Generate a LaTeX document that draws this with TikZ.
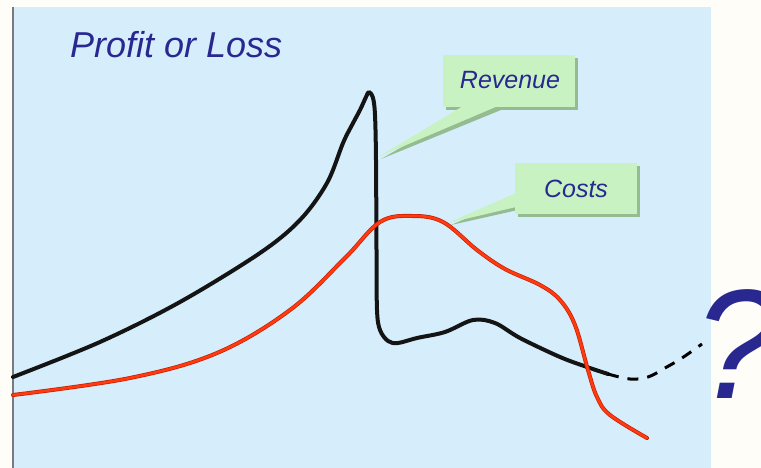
\documentclass[tikz,border=0pt]{standalone}
\usepackage{fontspec}
\setmainfont{Liberation Sans}
\definecolor{pagebg}{HTML}{FEFDF8}
\definecolor{panel}{HTML}{D6EEFC}
\definecolor{axisgray}{HTML}{7A7A7A}
\definecolor{txtblue}{HTML}{282890}
\definecolor{calloutgreen}{HTML}{C8F2C2}
\definecolor{calloutshadow}{HTML}{94BC90}
\definecolor{redcurve}{HTML}{FF3A10}
\definecolor{rededge}{HTML}{C42000}
\tikzset{
  x=1pt, y=-1pt,
  callout/.style={fill=calloutgreen, draw=none},
  shadowfill/.style={fill=calloutshadow, draw=none},
  labeltext/.style={font=\fontsize{25}{30}\selectfont\itshape, text=txtblue, inner sep=0pt},
  revline/.style={line width=4pt, draw=black!92, line cap=round, line join=round},
  costedge/.style={line width=4pt, draw=rededge, line cap=round, line join=round},
  costline/.style={line width=2.6pt, draw=redcurve, line cap=round, line join=round},
  futureline/.style={line width=3pt, draw=black, dash pattern=on 11pt off 9pt},
}
\begin{document}
\begin{tikzpicture}
\clip (0,0) rectangle (761,468);
\fill[pagebg] (0,0) rectangle (761,468);
\fill[panel] (13,7) rectangle (711,468);
\draw[axisgray, line width=2pt] (13,7) -- (13,468);

% Title
\node[anchor=base west, font=\fontsize{36}{42}\selectfont\itshape, text=txtblue, inner sep=0pt] (title) at (70,58) {Profit or Loss};

% Revenue curve
\draw[revline] plot[smooth, tension=0.55] coordinates {
  (13,377) (100,342) (180,302) (260,253) (300,220) (327,183) (343,143)
  (352,125) (360,110) (366,97) (369,92) (373,98) (375,115) (376,160)
  (376.5,250) (377,310) (380,330) (388,341) (398,343) (417,338)
  (445,332) (473,320) (495,323) (520,338) (560,357) (587,367) (608,374)};
\draw[futureline] plot[smooth, tension=0.6] coordinates {
  (608,374) (630,379) (648,377) (665,368) (682,358) (702,344)};

% Costs curve
\def\costpath{plot[smooth, tension=0.6] coordinates {
  (13,395) (130,378) (217,353) (290,310) (345,258) (380,222) (412,216)
  (443,222) (477,250) (505,269) (540,285) (560,300) (575,325) (588,370)
  (597,397) (610,415) (647,438)}}
\draw[costedge] \costpath;
\draw[costline] \costpath;

% Revenue callout
\coordinate (revtip) at (378,157);
\fill[shadowfill] (446,58) rectangle (578,110);
\fill[shadowfill] (466,110) -- (381,159) -- (501,110) -- cycle;
\fill[callout] (463,106) -- (revtip) -- (498,106) -- cycle;
\node[callout, minimum width=132pt, minimum height=52pt, inner sep=0pt, anchor=north west] (revbox) at (443,55) {};
\node[labeltext] (revlabel) at (510,80) {Revenue};

% Costs callout
\coordinate (costtip) at (448,223);
\fill[shadowfill] (518,166) rectangle (640,217);
\fill[shadowfill] (518,196) -- (451,225) -- (518,210) -- cycle;
\fill[callout] (516,193) -- (costtip) -- (516,207) -- cycle;
\node[callout, minimum width=122pt, minimum height=51pt, inner sep=0pt, anchor=north west] (costbox) at (515,163) {};
\node[labeltext] (costlabel) at (576,189) {Costs};

% Question mark
\node[anchor=base west, font=\fontsize{156}{170}\selectfont\itshape, text=txtblue, inner sep=0pt] (qmark) at (694,398) {?};
\end{tikzpicture}
\end{document}
